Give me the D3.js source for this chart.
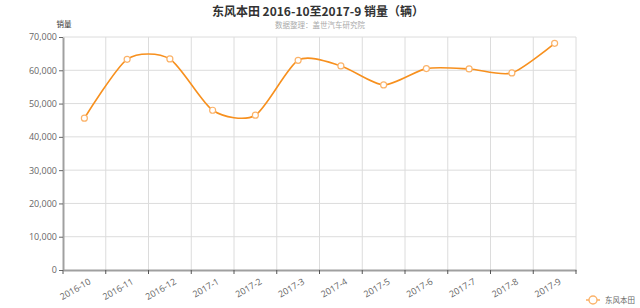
<!DOCTYPE html>
<html><head><meta charset="utf-8">
<script src="https://cdn.jsdelivr.net/npm/d3@7"></script>
<style>body{margin:0;background:#fff}svg{display:block}text{font-family:"Noto Sans CJK SC","Noto Sans",sans-serif}</style>
</head><body><svg id="c" width="640" height="308"></svg>
<script>
const categories = ["2016-10","2016-11","2016-12","2017-1","2017-2","2017-3","2017-4","2017-5","2017-6","2017-7","2017-8","2017-9"];
const sales = [45600, 63300, 63400, 48000, 46500, 63000, 61300, 55600, 60500, 60400, 59200, 68100];
const yTicks = [0,10000,20000,30000,40000,50000,60000,70000];
const seriesName = "东风本田";
const title = "东风本田 2016-10至2017-9 销量（辆）";
const subtitle = "数据整理：盖世汽车研究院";
const yName = "销量";

const svg = d3.select("#c");
const L = 63, R = 576, T = 37, B = 270;
const x = d3.scaleBand().domain(categories).range([L, R]);
const y = d3.scaleLinear().domain([0, 70000]).range([B, T]);
const col = "#f7901e";

// grid
svg.append("g").selectAll("line").data(yTicks.slice(1)).join("line")
  .attr("x1", L).attr("x2", R).attr("y1", d => y(d)).attr("y2", d => y(d))
  .attr("stroke", "#dcdcdc").attr("stroke-width", 1);
const edges = categories.map(c => x(c)).slice(1).concat([R]);
svg.append("g").selectAll("line").data(edges).join("line")
  .attr("x1", d => d).attr("x2", d => d).attr("y1", T).attr("y2", B)
  .attr("stroke", "#dcdcdc").attr("stroke-width", 1);

// y axis
const ya = svg.append("g").attr("transform", `translate(${L},0)`)
  .call(d3.axisLeft(y).tickValues(yTicks).tickFormat(d3.format(",")).tickSize(4).tickSizeOuter(0));
ya.select(".domain").attr("stroke", "#a0a0a0").attr("stroke-width", 2);
ya.selectAll(".tick line").attr("stroke", "#666");
ya.selectAll(".tick text").attr("fill", "#666").style("font-size", "9px").attr("x", -6)
  .style("font-family", "'Open Sans','DejaVu Sans',sans-serif");

// x axis
const xa = svg.append("g").attr("transform", `translate(0,${B})`)
  .call(d3.axisBottom(x).tickSize(0).tickFormat(""));
xa.select(".domain").attr("stroke", "#a0a0a0").attr("stroke-width", 2);
const xt = [L].concat(edges);
svg.append("g").selectAll("line").data(xt).join("line")
  .attr("x1", d => d).attr("x2", d => d).attr("y1", B).attr("y2", B + 4)
  .attr("stroke", "#555");
svg.append("g").selectAll("text").data(categories).join("text")
  .attr("transform", d => `translate(${x(d) + x.bandwidth()/2 + 4},${B + 8}) rotate(-30)`)
  .attr("text-anchor", "end").attr("dy", "0.7em")
  .attr("fill", "#666").style("font-size", "9px")
  .style("font-family", "'Open Sans','DejaVu Sans',sans-serif")
  .text(d => d);

// line
const cx = d => x(d) + x.bandwidth()/2;
const line = d3.line().x((d,i) => cx(categories[i])).y(d => y(d)).curve(d3.curveCardinal.tension(0.25));
svg.append("path").datum(sales).attr("d", line).attr("fill", "none")
  .attr("stroke", col).attr("stroke-width", 1.6);
svg.append("g").selectAll("circle").data(sales).join("circle")
  .attr("cx", (d,i) => cx(categories[i])).attr("cy", d => y(d)).attr("r", 3)
  .attr("fill", "#fff").attr("stroke", "#fbb36a").attr("stroke-width", 1.2);

// titles
svg.append("text").attr("x", 318).attr("y", 16).attr("text-anchor", "middle")
  .style("font-size", "12px").style("font-weight", "bold").attr("fill", "#333").text(title);
svg.append("text").attr("x", 320).attr("y", 28).attr("text-anchor", "middle")
  .style("font-size", "7.5px").attr("fill", "#aaa").text(subtitle);
svg.append("text").attr("x", 64).attr("y", 27).attr("text-anchor", "middle")
  .style("font-size", "7.5px").attr("fill", "#333").text(yName);

// legend
const lg = svg.append("g").attr("transform", "translate(586,300)");
lg.append("line").attr("x1", 0).attr("x2", 14).attr("stroke", "#fbb36a").attr("stroke-width", 1.6);
lg.append("circle").attr("cx", 7).attr("r", 4).attr("fill", "#fff").attr("stroke", "#fbb36a").attr("stroke-width", 1.4);
lg.append("text").attr("x", 19).attr("y", 3).style("font-size", "7.5px").attr("fill", "#666").text(seriesName);
</script></body></html>
